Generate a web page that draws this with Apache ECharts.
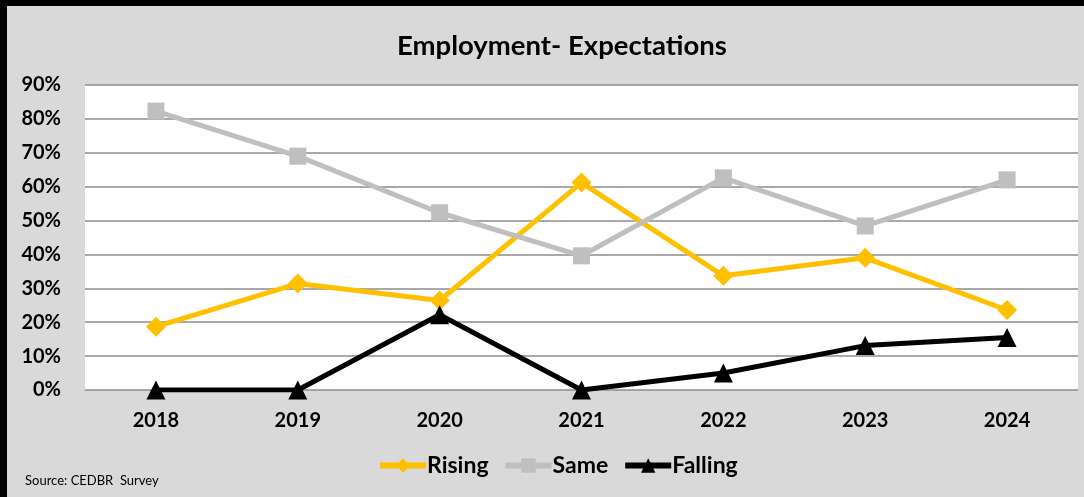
<!DOCTYPE html>
<html><head><meta charset="utf-8">
<script src="https://cdn.jsdelivr.net/npm/echarts@6/dist/echarts.min.js"></script>
<style>
html,body{margin:0;padding:0;background:#d9d9d9;}
#c{position:absolute;left:0;top:0;width:1084px;height:497px;}
.bt{position:absolute;left:0;top:0;width:1084px;height:6px;background:#000;}
.bl{position:absolute;left:0;top:0;width:7px;height:497px;background:#000;}
</style></head>
<body>
<div id="c"></div><div class="bt"></div><div class="bl"></div>
<script>
const categories = ['2018','2019','2020','2021','2022','2023','2024'];
const rising  = [18.7, 31.4, 26.4, 61.2, 33.7, 39.0, 23.6];
const same    = [82.3, 69.0, 52.3, 39.6, 62.6, 48.4, 62.0];
const falling = [0, 0, 22.2, 0, 5.0, 13.1, 15.5];
const seriesNames = ['Rising','Same','Falling'];
const font = 'Lato, "Open Sans", sans-serif';
const chart = echarts.init(document.getElementById('c'));
function mk(name, data, color, symbol, size){
  return {name, type:'line', data, symbol, symbolSize:size, color,
    lineStyle:{width:5,color}, itemStyle:{color}, animation:false};
}
chart.setOption({
  backgroundColor:'#d9d9d9',
  title:{text:'Employment- Expectations', left:392, top:27,
    textStyle:{fontFamily:font,fontWeight:'bold',fontSize:27.5,color:'#000'}},
  grid:{left:85,right:6,top:85,bottom:107,show:true,backgroundColor:'#fff',borderWidth:0},
  xAxis:{type:'category',data:categories,boundaryGap:true,
    axisLine:{show:false},axisTick:{show:false},
    axisLabel:{fontFamily:font,fontWeight:'bold',fontSize:20,color:'#000',margin:21}},
  yAxis:{type:'value',min:0,max:90,interval:10,
    axisLabel:{formatter:'{value}%',fontFamily:font,fontWeight:'bold',fontSize:20,color:'#000',margin:24},
    splitLine:{lineStyle:{color:'#8c8c8c',width:1.5}},
    axisLine:{show:false},axisTick:{show:false}},
  legend:{data:seriesNames,bottom:15,left:372,itemWidth:46,itemHeight:18,itemGap:14,
    lineStyle:{width:6},
    textStyle:{fontFamily:font,fontWeight:'bold',fontSize:23,color:'#000',padding:[0,0,0,-4]}},
  graphic:[{type:'text',left:25,top:474,style:{text:'Source: CEDBR  Survey',fontFamily:font,fontSize:13,fill:'#000'}}],
  series:[
    mk('Rising',rising,'#ffc000','diamond',20),
    mk('Same',same,'#bfbfbf','rect',17),
    mk('Falling',falling,'#000000','triangle',19)
  ]
});
</script>
</body></html>
